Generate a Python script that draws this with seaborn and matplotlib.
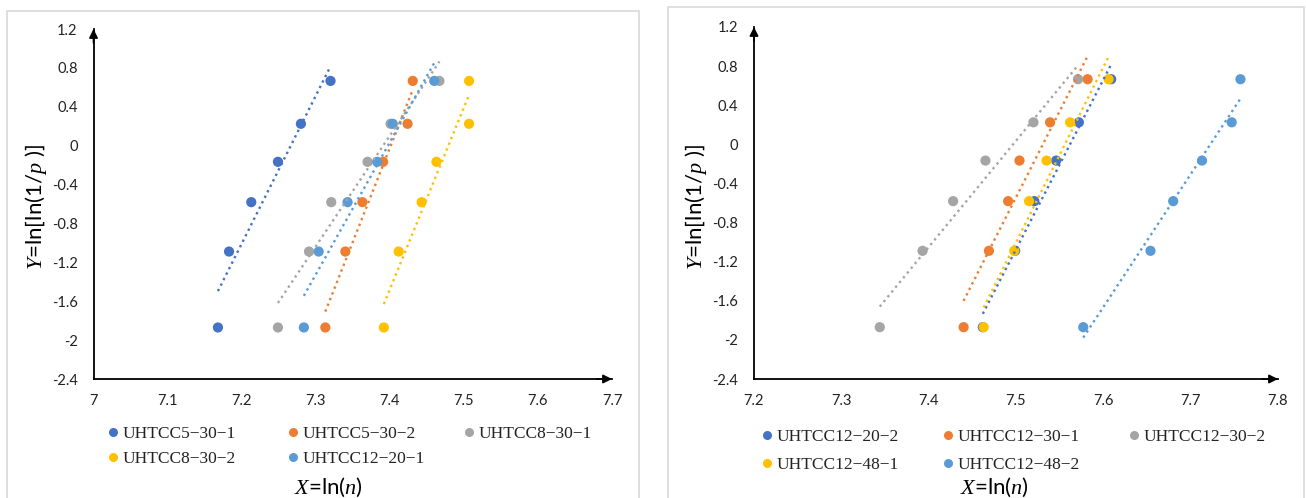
import numpy as np
import pandas as pd
import matplotlib
matplotlib.use("Agg")
import matplotlib.pyplot as plt
from matplotlib.patches import Rectangle
import seaborn as sns

# ---------------- data ----------------
Y_VALUES = [-1.870, -1.089, -0.581, -0.166, 0.225, 0.666]

LEFT_SERIES = ["UHTCC5−30−1", "UHTCC5−30−2", "UHTCC8−30−1", "UHTCC8−30−2", "UHTCC12−20−1"]
x_5_30_1 = [7.168, 7.183, 7.213, 7.249, 7.280, 7.320]
x_5_30_2 = [7.313, 7.340, 7.363, 7.391, 7.424, 7.431]
x_8_30_1 = [7.249, 7.291, 7.321, 7.370, 7.401, 7.467]
x_8_30_2 = [7.392, 7.412, 7.443, 7.463, 7.507, 7.507]
x_12_20_1 = [7.284, 7.304, 7.343, 7.383, 7.404, 7.460]

RIGHT_SERIES = ["UHTCC12−20−2", "UHTCC12−30−1", "UHTCC12−30−2", "UHTCC12−48−1", "UHTCC12−48−2"]
x_12_20_2 = [7.462, 7.499, 7.521, 7.546, 7.572, 7.609]
x_12_30_1 = [7.440, 7.469, 7.491, 7.504, 7.539, 7.582]
x_12_30_2 = [7.344, 7.393, 7.428, 7.465, 7.520, 7.571]
x_12_48_1 = [7.463, 7.498, 7.515, 7.535, 7.562, 7.606]
x_12_48_2 = [7.577, 7.654, 7.680, 7.713, 7.747, 7.757]

Y_TICKS = [-2.4, -2.0, -1.6, -1.2, -0.8, -0.4, 0.0, 0.4, 0.8, 1.2]
Y_TICK_LABELS = ["-2.4", "-2", "-1.6", "-1.2", "-0.8", "-0.4", "0", "0.4", "0.8", "1.2"]
LEFT_X_TICKS = [7.0, 7.1, 7.2, 7.3, 7.4, 7.5, 7.6, 7.7]
LEFT_X_LABELS = ["7", "7.1", "7.2", "7.3", "7.4", "7.5", "7.6", "7.7"]
RIGHT_X_TICKS = [7.2, 7.3, 7.4, 7.5, 7.6, 7.7, 7.8]
RIGHT_X_LABELS = ["7.2", "7.3", "7.4", "7.5", "7.6", "7.7", "7.8"]

COLORS = ["#4472C4", "#ED7D31", "#A5A5A5", "#FFC000", "#5B9BD5"]

# ---------------- style ----------------
sns.set_theme(style="white")
plt.rcParams["font.family"] = ["Lato", "DejaVu Sans"]
plt.rcParams["axes.unicode_minus"] = False
plt.rcParams["mathtext.fontset"] = "custom"
plt.rcParams["mathtext.it"] = "Liberation Serif:italic"
plt.rcParams["mathtext.rm"] = "Lato"

W, H = 1306, 498
fig = plt.figure(figsize=(W / 100, H / 100), dpi=100)
fig.patch.set_facecolor("white")


def frect(x0, x1, ytop, ybot):
    return [x0 / W, 1 - ybot / H, (x1 - x0) / W, (ybot - ytop) / H]


# chart-area borders
fig.patches.append(Rectangle((7 / W, -0.02), (639 - 7) / W, 1.02 - 11 / H,
                             transform=fig.transFigure, fill=False,
                             edgecolor="#D9D9D9", lw=1.2))
fig.patches.append(Rectangle((668 / W, -0.02), (1304 - 668) / W, 1.02 - 7 / H,
                             transform=fig.transFigure, fill=False,
                             edgecolor="#D9D9D9", lw=1.2))

ax1 = fig.add_axes(frect(93.5, 612, 29, 379))
ax2 = fig.add_axes(frect(754, 1278, 27, 379))


def build_df(names, xs):
    rows = []
    for name, x in zip(names, xs):
        for xv, yv in zip(x, Y_VALUES):
            rows.append({"X": xv, "Y": yv, "series": name})
    return pd.DataFrame(rows)


def draw_panel(ax, names, xs, xticks, xlabels, xlim):
    df = build_df(names, xs)
    pal = dict(zip(names, COLORS))
    sns.scatterplot(data=df, x="X", y="Y", hue="series", hue_order=names,
                    palette=pal, s=54, linewidth=0, ax=ax, zorder=3)
    for name in names:
        sub = df[df["series"] == name]
        sns.regplot(data=sub, x="X", y="Y", scatter=False, ci=None, ax=ax,
                    color=pal[name], truncate=True,
                    line_kws=dict(ls=(0, (1, 1.6)), lw=1.7, zorder=4))
    ax.set_xlim(*xlim)
    ax.set_ylim(-2.4, 1.2)
    ax.set_xticks(xticks)
    ax.set_xticklabels(xlabels)
    ax.set_yticks(Y_TICKS)
    ax.set_yticklabels(Y_TICK_LABELS)
    ax.set_xlabel("")
    ax.set_ylabel("")
    for s in ["top", "right"]:
        ax.spines[s].set_visible(False)
    for s in ["left", "bottom"]:
        ax.spines[s].set_color("black")
        ax.spines[s].set_linewidth(1.3)
    ax.tick_params(axis="both", direction="in", length=5, width=1.1,
                   color="black", labelsize=10.5, labelcolor="#222222")
    ax.tick_params(axis="y", pad=11.5)
    ax.tick_params(axis="x", pad=10.5)
    ax.set_facecolor("none")
    # arrow heads
    ax.annotate("", xy=(1.0, 0), xytext=(0.97, 0), xycoords="axes fraction",
                arrowprops=dict(arrowstyle="-|>", color="black", lw=1.2,
                                mutation_scale=13, shrinkA=0, shrinkB=0))
    ax.annotate("", xy=(0, 1.0), xytext=(0, 0.96), xycoords="axes fraction",
                arrowprops=dict(arrowstyle="-|>", color="black", lw=1.2,
                                mutation_scale=13, shrinkA=0, shrinkB=0))
    handles, labels = ax.get_legend_handles_labels()
    if ax.get_legend() is not None:
        ax.get_legend().remove()
    return handles, labels


h1, l1 = draw_panel(ax1, LEFT_SERIES,
                    [x_5_30_1, x_5_30_2, x_8_30_1, x_8_30_2, x_12_20_1],
                    LEFT_X_TICKS, LEFT_X_LABELS, (7.0, 7.7))
h2, l2 = draw_panel(ax2, RIGHT_SERIES,
                    [x_12_20_2, x_12_30_1, x_12_30_2, x_12_48_1, x_12_48_2],
                    RIGHT_X_TICKS, RIGHT_X_LABELS, (7.2, 7.8))

# legend: Excel-style equal-width columns, filled row by row
leg_prop = dict(family="Liberation Serif", size=12.5)
columns = [[0, 3], [1, 4], [2]]
for hs, ls, col_px, top_px, lsp in [(h1, l1, [108, 288, 464], 426, 0.5),
                                    (h2, l2, [762, 943, 1129], 429, 0.7)]:
    for h in hs:
        try:
            h.set_markersize(6.5)
        except Exception:
            pass
    for idxs, cx in zip(columns, col_px):
        leg = fig.legend([hs[i] for i in idxs], [ls[i] for i in idxs],
                         loc="upper left",
                         bbox_to_anchor=(cx / W, 1 - top_px / H),
                         bbox_transform=fig.transFigure, ncol=1, frameon=False,
                         prop=leg_prop, handlelength=0.55, handletextpad=0.3,
                         labelspacing=lsp, borderpad=0, borderaxespad=0)
        for t in leg.get_texts():
            t.set_color("#222222")

# axis titles
ylab = r"$Y$=ln[ln(1/$p$ )]"
xlab = r"$X$=ln($n$)"
fig.text(36 / W, 1 - 207 / H, ylab, rotation=90, ha="center", va="center",
         fontsize=16, color="black")
fig.text(696 / W, 1 - 207 / H, ylab, rotation=90, ha="center", va="center",
         fontsize=16, color="black")
fig.text(328 / W, 1 - 487 / H, xlab, ha="center", va="center",
         fontsize=16, color="black")
fig.text(994 / W, 1 - 487 / H, xlab, ha="center", va="center",
         fontsize=16, color="black")

fig.savefig("out.png", dpi=100, facecolor="white")
